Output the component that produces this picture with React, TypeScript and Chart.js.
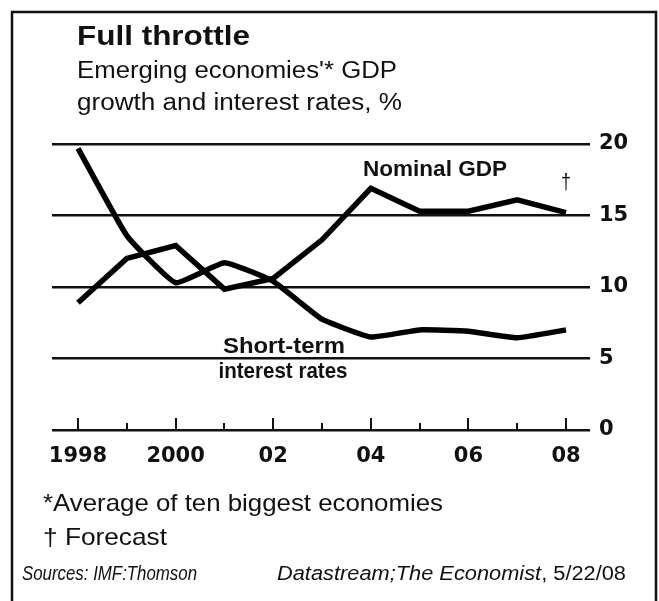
import React, { useEffect, useRef } from "react";
import { Chart, registerables } from "chart.js";

Chart.register(...registerables);

const years = [1998, 1999, 2000, 2001, 2002, 2003, 2004, 2005, 2006, 2007, 2008];
const nominalGdp = [8.9, 12.0, 12.9, 9.85, 10.6, 13.3, 16.9, 15.3, 15.3, 16.1, 15.2];
const shortRates = [19.7, 13.6, 10.3, 11.7, 10.4, 7.75, 6.5, 7.0, 6.9, 6.45, 7.0];
const xTickLabels = ["1998", "", "2000", "", "02", "", "04", "", "06", "", "08"];
const yTickValues = [0, 5, 10, 15, 20];

const TITLE = "Full throttle";
const SUB1 = "Emerging economies'* GDP";
const SUB2 = "growth and interest rates, %";
const NOTE1 = "*Average of ten biggest economies";
const NOTE2 = "\u2020 Forecast";
const SRC1 = "Sources: IMF:Thomson";
const SRC2 = "Datastream;The Economist";
const SRC3 = ", 5/22/08";
const LBL_GDP = "Nominal GDP";
const LBL_R1 = "Short-term";
const LBL_R2 = "interest rates";

const SANS = "'Liberation Sans', Arial, sans-serif";
const TICKFONT = "'DejaVu Sans', Verdana, sans-serif";

function fitText(
  ctx: CanvasRenderingContext2D,
  text: string,
  x: number,
  y: number,
  font: string,
  width: number,
  align: CanvasTextAlign = "left"
) {
  ctx.save();
  ctx.font = font;
  const w = ctx.measureText(text).width;
  const s = width / w;
  ctx.translate(x, y);
  ctx.scale(s, 1);
  ctx.textAlign = align;
  ctx.textBaseline = "middle";
  ctx.fillText(text, 0, 0);
  ctx.restore();
}

const decorPlugin = {
  id: "decor",
  beforeDraw(chart: any) {
    const ctx = chart.ctx;
    ctx.save();
    ctx.fillStyle = "#ffffff";
    ctx.fillRect(0, 0, chart.width, chart.height);
    ctx.restore();
  },
  beforeDatasetsDraw(chart: any) {
    const ctx = chart.ctx;
    const xs = chart.scales.x;
    const ys = chart.scales.y;
    const y0 = ys.getPixelForValue(0);
    ctx.save();
    ctx.strokeStyle = "#111";
    ctx.lineWidth = 2;
    years.forEach((yr, i) => {
      const px = Math.round(xs.getPixelForValue(yr));
      const len = i % 2 === 0 ? 12 : 7;
      ctx.beginPath();
      ctx.moveTo(px, y0);
      ctx.lineTo(px, y0 - len);
      ctx.stroke();
    });
    ctx.restore();
  },
  afterDraw(chart: any) {
    const ctx = chart.ctx;
    ctx.save();
    ctx.fillStyle = "#111";
    ctx.strokeStyle = "#111";
    ctx.lineWidth = 2.5;
    ctx.beginPath();
    ctx.moveTo(12, 601);
    ctx.lineTo(12, 12);
    ctx.lineTo(656, 12);
    ctx.lineTo(656, 601);
    ctx.stroke();

    fitText(ctx, TITLE, 77, 37, `bold 28px ${SANS}`, 173);
    fitText(ctx, SUB1, 77, 72, `23px ${SANS}`, 320);
    fitText(ctx, SUB2, 77, 104, `23px ${SANS}`, 325);

    fitText(ctx, LBL_GDP, 435, 170, `bold 22px ${SANS}`, 144, "center");
    fitText(ctx, "\u2020", 566, 183, `22px ${SANS}`, 10, "center");
    fitText(ctx, LBL_R1, 284, 347, `bold 22px ${SANS}`, 122, "center");
    fitText(ctx, LBL_R2, 283, 372, `bold 22px ${SANS}`, 129, "center");

    fitText(ctx, NOTE1, 43, 504, `24px ${SANS}`, 400);
    fitText(ctx, NOTE2, 43, 538, `24px ${SANS}`, 124);

    fitText(ctx, SRC1, 22, 574, `italic 20px ${SANS}`, 175);
    ctx.font = `italic 20px ${SANS}`;
    const w2 = ctx.measureText(SRC2).width;
    ctx.font = `20px ${SANS}`;
    const w3 = ctx.measureText(SRC3).width;
    const s = 349 / (w2 + w3);
    fitText(ctx, SRC2, 277, 574, `italic 20px ${SANS}`, w2 * s);
    fitText(ctx, SRC3, 277 + w2 * s, 574, `20px ${SANS}`, w3 * s);
    ctx.restore();
  },
};

export default function App() {
  const ref = useRef<HTMLCanvasElement | null>(null);
  useEffect(() => {
    if (!ref.current) return;
    const chart = new Chart(ref.current, {
      type: "line",
      data: {
        datasets: [
          {
            label: "Nominal GDP",
            data: years.map((y, i) => ({ x: y, y: nominalGdp[i] })),
            borderColor: "#000",
            borderWidth: 5.5,
            pointRadius: 0,
            tension: 0,
            borderJoinStyle: "miter",
            borderCapStyle: "butt",
            clip: false,
          },
          {
            label: "Short-term interest rates",
            data: years.map((y, i) => ({ x: y, y: shortRates[i] })),
            borderColor: "#000",
            borderWidth: 5.5,
            pointRadius: 0,
            tension: 0.12,
            borderJoinStyle: "round",
            borderCapStyle: "butt",
            clip: false,
          },
        ],
      },
      options: {
        responsive: false,
        animation: false,
        events: [],
        layout: { padding: { left: 52, top: 144, right: 0, bottom: 0 } },
        plugins: { legend: { display: false }, tooltip: { enabled: false }, title: { display: false } },
        scales: {
          x: {
            type: "linear",
            min: 1997.467,
            max: 2008.492,
            grid: { display: false, drawTicks: false },
            border: { display: false },
            afterBuildTicks: (axis: any) => {
              axis.ticks = years.map((v) => ({ value: v }));
            },
            afterFit: (s: any) => {
              s.height = 171;
            },
            ticks: {
              autoSkip: false,
              maxRotation: 0,
              padding: 14,
              color: "#111",
              font: { family: TICKFONT, size: 21, weight: "bold" },
              callback: (v: any) => {
                const i = years.indexOf(Number(v));
                return i >= 0 ? xTickLabels[i] : "";
              },
            },
          },
          y: {
            position: "right",
            min: 0,
            max: 20,
            grid: { color: "#111", lineWidth: 2.5, drawTicks: false },
            border: { display: false },
            afterBuildTicks: (axis: any) => {
              axis.ticks = yTickValues.map((v) => ({ value: v }));
            },
            afterFit: (s: any) => {
              s.width = 69;
            },
            ticks: {
              padding: 9,
              color: "#111",
              font: { family: TICKFONT, size: 21, weight: "bold" },
            },
          },
        },
      },
      plugins: [decorPlugin],
    });
    return () => chart.destroy();
  }, []);
  return (
    <div style={{ position: "fixed", left: 0, top: 0, width: 659, height: 601, background: "#fff" }}>
      <canvas ref={ref} width={659} height={601} style={{ display: "block", width: 659, height: 601 }} />
    </div>
  );
}
